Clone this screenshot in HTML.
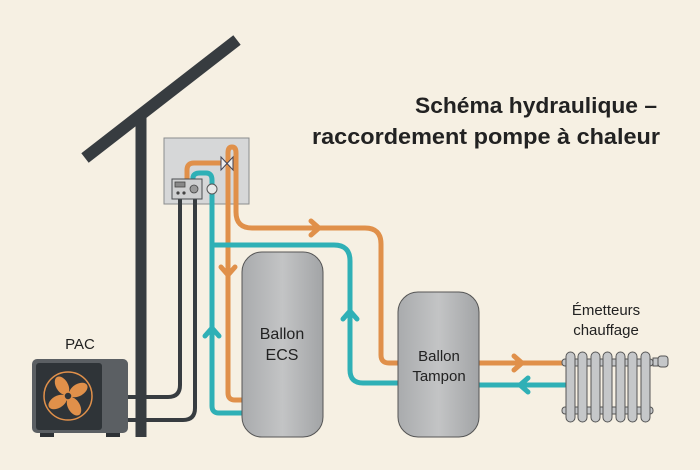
<!DOCTYPE html>
<html><head><meta charset="utf-8"><style>
html,body{margin:0;padding:0;background:#f6f0e3;}
svg{display:block}
text{font-family:"Liberation Sans",sans-serif;}
</style></head><body>
<svg width="700" height="470" viewBox="0 0 700 470" xmlns="http://www.w3.org/2000/svg">
<defs>
<linearGradient id="tank" x1="0" x2="1"><stop offset="0" stop-color="#a9abad"/><stop offset="0.5" stop-color="#c3c4c5"/><stop offset="1" stop-color="#a2a4a6"/></linearGradient>
</defs>
<rect width="700" height="470" fill="#f6f0e3"/>
<!-- title -->
<text x="657" y="113" text-anchor="end" font-size="22" font-weight="bold" fill="#222" textLength="242" lengthAdjust="spacingAndGlyphs">Schéma hydraulique –</text>
<text x="660" y="144" text-anchor="end" font-size="22" font-weight="bold" fill="#222" textLength="348" lengthAdjust="spacingAndGlyphs">raccordement pompe à chaleur</text>
<!-- solar panel and pole -->
<line x1="85" y1="158" x2="237" y2="40" stroke="#373c40" stroke-width="12"/>
<line x1="141" y1="112" x2="141" y2="437" stroke="#373c40" stroke-width="11"/>
<!-- control box -->
<rect x="164" y="138" width="85" height="66" fill="#d6d7d8" stroke="#8a8c8e" stroke-width="1"/>
<!-- dark cables -->
<path d="M180 199 V385 Q180 397 168 397 H128" fill="none" stroke="#373c40" stroke-width="4"/>
<path d="M195 199 V408 Q195 420 183 420 H128" fill="none" stroke="#373c40" stroke-width="4"/>
<!-- orange pipes -->
<g fill="none" stroke="#e0904a" stroke-width="5" stroke-linecap="round" stroke-linejoin="round">
<path d="M187 179 V170 Q187 163 194 163 H225"/>
<path d="M228 170 V153 Q228 147 232 147 Q236 147 236 153 V212 Q236 228 252 228 H365 Q381 228 381 244 V355 Q381 363 389 363 H398"/>
<path d="M228 170 V393 Q228 400 235 400 H242"/>
<path d="M479 363 H565"/>
<path d="M311 221 L319 228 L311 235"/>
<path d="M221 267 L228 275 L235 267"/>
<path d="M514 356 L522 363 L514 370"/>
</g>
<!-- teal pipes -->
<g fill="none" stroke="#2fb0b6" stroke-width="5" stroke-linecap="round" stroke-linejoin="round">
<path d="M193 179 V178 Q193 173 200 173 H206 Q212 173 212 180 V406 Q212 413 219 413 H242"/>
<path d="M212 245 H334 Q350 245 350 261 V370 Q350 383 363 383 H398"/>
<path d="M479 385 H565"/>
<path d="M205 336 L212 328 L219 336"/>
<path d="M343 319 L350 311 L357 319"/>
<path d="M528 378 L520 385 L528 392"/>
</g>
<!-- controller -->
<rect x="172" y="179" width="30" height="20" fill="#cfd0d1" stroke="#4a4d50" stroke-width="1"/>
<rect x="175" y="182" width="10" height="5" fill="#888" stroke="#444" stroke-width="0.8"/>
<circle cx="178" cy="193" r="1.6" fill="#444"/><circle cx="184" cy="193" r="1.6" fill="#444"/>
<circle cx="194" cy="189" r="4" fill="#999" stroke="#444" stroke-width="0.8"/>
<circle cx="212" cy="189" r="5" fill="#e8e8e8" stroke="#555" stroke-width="1"/>
<!-- valve -->
<path d="M221 157 L233 170 L233 157 L221 170 Z" fill="#eee" stroke="#445" stroke-width="1"/>
<!-- tanks -->
<rect x="242" y="252" width="81" height="185" rx="20" fill="url(#tank)" stroke="#555" stroke-width="1"/>
<text x="282" y="339" text-anchor="middle" font-size="16" fill="#222">Ballon</text>
<text x="282" y="360" text-anchor="middle" font-size="16" fill="#222">ECS</text>
<rect x="398" y="292" width="81" height="145" rx="20" fill="url(#tank)" stroke="#555" stroke-width="1"/>
<text x="439" y="361" text-anchor="middle" font-size="15" fill="#222">Ballon</text>
<text x="439" y="381" text-anchor="middle" font-size="15" fill="#222">Tampon</text>
<!-- radiator -->
<text x="606" y="315" text-anchor="middle" font-size="15" fill="#222">Émetteurs</text>
<text x="606" y="335" text-anchor="middle" font-size="15" fill="#222">chauffage</text>
<g fill="#c5c7c9" stroke="#555" stroke-width="1">
<rect x="562" y="359" width="91" height="7" rx="3"/>
<rect x="562" y="407" width="91" height="7" rx="3"/>
<rect x="566" y="352" width="9" height="70" rx="4.5"/>
<rect x="578" y="352" width="9" height="70" rx="4.5"/>
<rect x="591" y="352" width="9" height="70" rx="4.5"/>
<rect x="603" y="352" width="9" height="70" rx="4.5"/>
<rect x="616" y="352" width="9" height="70" rx="4.5"/>
<rect x="628" y="352" width="9" height="70" rx="4.5"/>
<rect x="641" y="352" width="9" height="70" rx="4.5"/>
<rect x="653" y="358" width="5" height="8"/>
<rect x="658" y="356" width="10" height="11" rx="3"/>
</g>
<!-- PAC -->
<text x="80" y="349" text-anchor="middle" font-size="15" fill="#222">PAC</text>
<rect x="40" y="430" width="14" height="7" fill="#2d3135"/>
<rect x="106" y="430" width="14" height="7" fill="#2d3135"/>
<rect x="32" y="359" width="96" height="74" rx="5" fill="#5b5f63"/>
<rect x="36" y="363" width="66" height="67" rx="3" fill="#2f3438"/>
<circle cx="68" cy="396" r="24" fill="none" stroke="#e0904a" stroke-width="1.5"/>
<g fill="#e0904a">
<ellipse cx="68" cy="384" rx="6" ry="10" transform="rotate(-30 68 396)"/>
<ellipse cx="68" cy="384" rx="6" ry="10" transform="rotate(60 68 396)"/>
<ellipse cx="68" cy="384" rx="6" ry="10" transform="rotate(150 68 396)"/>
<ellipse cx="68" cy="384" rx="6" ry="10" transform="rotate(240 68 396)"/>
</g>
<circle cx="68" cy="396" r="4" fill="#2f3438" stroke="#e0904a" stroke-width="1.5"/>
</svg>
</body></html>
